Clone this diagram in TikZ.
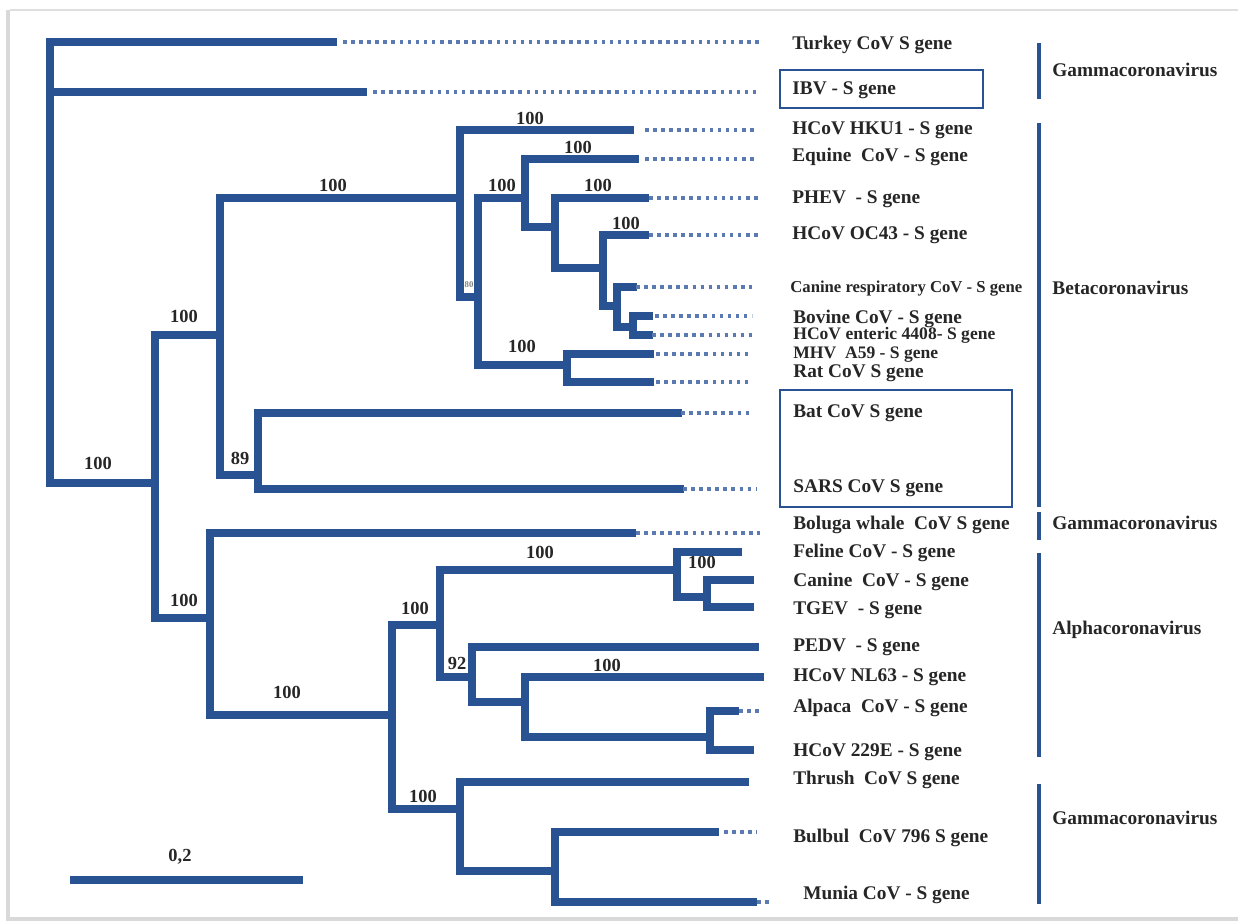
\documentclass[tikz,border=0pt]{standalone}
\usepackage{fontspec}
\setmainfont{Liberation Serif}
\usepackage{xcolor}
\usetikzlibrary{positioning,calc}
\definecolor{treeblue}{RGB}{40,82,145}
\definecolor{dotblue}{RGB}{92,122,178}

\begin{document}
\begin{tikzpicture}[
  x=0.02cm, y=-0.02cm,
  every node/.style={font=\fontsize{11}{13}\selectfont\bfseries},
  branch/.style={draw=treeblue, line width=4.2pt, line cap=rect},
  dotline/.style={draw=dotblue, line width=2pt, dash pattern=on 2pt off 2.6pt},
  leaf/.style={anchor=mid west, inner sep=0pt, text=black!85},
  boot/.style={inner sep=0pt, text=black!85, font=\fontsize{10.5}{12}\selectfont\bfseries},
  grpbar/.style={draw=treeblue, line width=2.4pt},
  grplbl/.style={anchor=mid west, inner sep=0pt, text=black!85, font=\fontsize{11}{13}\selectfont\bfseries},
  selbox/.style={draw=treeblue, line width=1.6pt}
]
\useasboundingbox (0,0) rectangle (1238,922);
% page with shadow
\fill[gray!30] (6,10) rectangle (1238,921);
\fill[white] (10,11) rectangle (1238,917);
\draw[gray!25, line width=0.6pt] (10,10) -- (1238,10);

% internal nodes
\coordinate (root) at (50,483);
\coordinate (nA) at (155,483);
\coordinate (nB) at (220,335);
\coordinate (nC) at (460,198);
\coordinate (nD) at (478,297);
\coordinate (nE) at (525,198);
\coordinate (nF) at (555,227);
\coordinate (nG) at (603,268);
\coordinate (nH) at (617,306);
\coordinate (nI) at (633,327);
\coordinate (nJ) at (567,365);
\coordinate (nK) at (258,475);
\coordinate (nL) at (210,618);
\coordinate (nM) at (392,715);
\coordinate (nN) at (440,625);
\coordinate (nO) at (677,570);
\coordinate (nP) at (707,597);
\coordinate (nQ) at (472,677);
\coordinate (nR) at (525,702);
\coordinate (nS) at (710,737);
\coordinate (nT) at (460,809);
\coordinate (nU) at (555,871);

% branch tips
\coordinate (tTurkey)  at (333,42);
\coordinate (tIBV)     at (363,92);
\coordinate (tHKU1)    at (630,130);
\coordinate (tEquine)  at (635,159);
\coordinate (tPHEV)    at (645,198);
\coordinate (tOC43)    at (645,235);
\coordinate (tCanResp) at (633,287);
\coordinate (tBovine)  at (649,316);
\coordinate (tEnteric) at (649,335);
\coordinate (tMHV)     at (650,354);
\coordinate (tRat)     at (650,382);
\coordinate (tBat)     at (678,413);
\coordinate (tSARS)    at (680,489);
\coordinate (tBoluga)  at (632,533);
\coordinate (tFeline)  at (738,552);
\coordinate (tCanine)  at (750,580);
\coordinate (tTGEV)    at (750,607);
\coordinate (tPEDV)    at (755,647);
\coordinate (tNL63)    at (760,677);
\coordinate (tAlpaca)  at (735,711);
\coordinate (t229E)    at (750,750);
\coordinate (tThrush)  at (745,782);
\coordinate (tBulbul)  at (715,832);
\coordinate (tMunia)   at (753,902);

% ends of the dotted leaders
\coordinate (dA) at (760,0);
\coordinate (dB) at (757,0);
\coordinate (dC) at (752,0);
\coordinate (dD) at (770,0);

% leaf labels
\node[leaf] (lTurkey)  at (792,45)  {Turkey CoV S gene};
\node[leaf] (lIBV)     at (792,90)  {IBV - S gene};
\node[leaf] (lHKU1)    at (792,130) {HCoV HKU1 - S gene};
\node[leaf] (lEquine)  at (792,157) {Equine\ \ CoV - S gene};
\node[leaf] (lPHEV)    at (792,199) {PHEV\ \ - S gene};
\node[leaf] (lOC43)    at (792,235) {HCoV OC43 - S gene};
\node[leaf, font=\fontsize{9.5}{11}\selectfont\bfseries] (lCanResp) at (790,288) {Canine respiratory CoV - S gene};
\node[leaf] (lBovine)  at (793,319) {Bovine CoV - S gene};
\node[leaf, font=\fontsize{10}{11}\selectfont\bfseries] (lEnteric) at (793,335) {HCoV enteric 4408- S gene};
\node[leaf, font=\fontsize{10}{11}\selectfont\bfseries] (lMHV) at (793,354) {MHV\ \ A59 - S gene};
\node[leaf] (lRat)     at (793,373) {Rat CoV S gene};
\node[leaf] (lBat)     at (793,413) {Bat CoV S gene};
\node[leaf] (lSARS)    at (793,488) {SARS CoV S gene};
\node[leaf] (lBoluga)  at (793,525) {Boluga whale\ \ CoV S gene};
\node[leaf] (lFeline)  at (793,553) {Feline CoV - S gene};
\node[leaf] (lCanine)  at (793,582) {Canine\ \ CoV - S gene};
\node[leaf] (lTGEV)    at (793,610) {TGEV\ \ - S gene};
\node[leaf] (lPEDV)    at (793,647) {PEDV\ \ - S gene};
\node[leaf] (lNL63)    at (793,677) {HCoV NL63 - S gene};
\node[leaf] (lAlpaca)  at (793,708) {Alpaca\ \ CoV - S gene};
\node[leaf] (l229E)    at (793,752) {HCoV 229E - S gene};
\node[leaf] (lThrush)  at (793,780) {Thrush\ \ CoV S gene};
\node[leaf] (lBulbul)  at (793,838) {Bulbul\ \ CoV 796 S gene};
\node[leaf] (lMunia)   at (803,895) {Munia CoV - S gene};

% bootstrap values
\node[boot] (b1)  at (98,463)  {100};
\node[boot] (b2)  at (184,316) {100};
\node[boot] (b3)  at (184,600) {100};
\node[boot] (b4)  at (333,185) {100};
\node[boot] (b5)  at (240,458) {89};
\node[boot] (b6)  at (530,118) {100};
\node[boot, font=\fontsize{5}{6}\selectfont\bfseries, text=gray] (b7) at (469,285) {80};
\node[boot] (b8)  at (502,185) {100};
\node[boot] (b9)  at (522,346) {100};
\node[boot] (b10) at (578,147) {100};
\node[boot] (b11) at (598,185) {100};
\node[boot] (b12) at (626,223) {100};
\node[boot] (b13) at (287,692) {100};
\node[boot] (b14) at (415,608) {100};
\node[boot] (b15) at (423,796) {100};
\node[boot] (b16) at (540,552) {100};
\node[boot] (b17) at (457,663) {92};
\node[boot] (b18) at (702,562) {100};
\node[boot] (b19) at (607,665) {100};

% groups
\node[grplbl] (gGamma1) at (1052,72)  {Gammacoronavirus};
\node[grplbl] (gBeta)   at (1052,290) {Betacoronavirus};
\node[grplbl] (gGamma2) at (1052,525) {Gammacoronavirus};
\node[grplbl] (gAlpha)  at (1052,630) {Alphacoronavirus};
\node[grplbl] (gGamma3) at (1052,820) {Gammacoronavirus};
\draw[grpbar] (1039,43)  -- (1039,99);
\draw[grpbar] (1039,123) -- (1039,507);
\draw[grpbar] (1039,512) -- (1039,540);
\draw[grpbar] (1039,553) -- (1039,757);
\draw[grpbar] (1039,784) -- (1039,904);

% boxed labels
\draw[selbox] (780,70)  rectangle (983,108);
\draw[selbox] (780,390) rectangle (1012,507);

% scale bar
\node[boot] (sLbl) at (180,857) {0,2};
\draw[branch, line cap=butt] (70,880) -- (303,880);

% tree
\draw[branch] (root) |- (tTurkey);
\draw[branch] (root) |- (tIBV);
\draw[branch] (root) -- (nA);
\draw[branch] (nA) |- (nB);
\draw[branch] (nA) |- (nL);
\draw[branch] (nB) |- (nC);
\draw[branch] (nB) |- (nK);
\draw[branch] (nC) |- (tHKU1);
\draw[branch] (nC) |- (nD);
\draw[branch] (nD) |- (nE);
\draw[branch] (nD) |- (nJ);
\draw[branch] (nE) |- (tEquine);
\draw[branch] (nE) |- (nF);
\draw[branch] (nF) |- (tPHEV);
\draw[branch] (nF) |- (nG);
\draw[branch] (nG) |- (tOC43);
\draw[branch] (nG) |- (nH);
\draw[branch] (nH) |- (tCanResp);
\draw[branch] (nH) |- (nI);
\draw[branch] (nI) |- (tBovine);
\draw[branch] (nI) |- (tEnteric);
\draw[branch] (nJ) |- (tMHV);
\draw[branch] (nJ) |- (tRat);
\draw[branch] (nK) |- (tBat);
\draw[branch] (nK) |- (tSARS);
\draw[branch] (nL) |- (tBoluga);
\draw[branch] (nL) |- (nM);
\draw[branch] (nM) |- (nN);
\draw[branch] (nM) |- (nT);
\draw[branch] (nN) |- (nO);
\draw[branch] (nN) |- (nQ);
\draw[branch] (nO) |- (tFeline);
\draw[branch] (nO) |- (nP);
\draw[branch] (nP) |- (tCanine);
\draw[branch] (nP) |- (tTGEV);
\draw[branch] (nQ) |- (tPEDV);
\draw[branch] (nQ) |- (nR);
\draw[branch] (nR) |- (tNL63);
\draw[branch] (nR) |- (nS);
\draw[branch] (nS) |- (tAlpaca);
\draw[branch] (nS) |- (t229E);
\draw[branch] (nT) |- (tThrush);
\draw[branch] (nT) |- (nU);
\draw[branch] (nU) |- (tBulbul);
\draw[branch] (nU) |- (tMunia);

% dotted leaders
\draw[dotline] (tTurkey)  ++(10,0) -- (tTurkey -| dA);
\draw[dotline] (tIBV)     ++(10,0) -- (tIBV -| dA);
\draw[dotline] (tHKU1)    ++(15,0) -- (tHKU1 -| dB);
\draw[dotline] (tEquine)  ++(10,0) -- (tEquine -| dB);
\draw[dotline] (tPHEV)    ++(4,0)  -- (tPHEV -| dA);
\draw[dotline] (tOC43)    ++(4,0)  -- (tOC43 -| dA);
\draw[dotline] (tCanResp) ++(3,0)  -- (tCanResp -| dC);
\draw[dotline] (tBovine)  ++(6,0)  -- (tBovine -| dC);
\draw[dotline] (tEnteric) ++(3,0)  -- (tEnteric -| dC);
\draw[dotline] (tMHV)     ++(6,0)  -- (tMHV -| dC);
\draw[dotline] (tRat)     ++(6,0)  -- (tRat -| dC);
\draw[dotline] (tBat)     ++(3,0)  -- (tBat -| dC);
\draw[dotline] (tSARS)    ++(3,0)  -- (tSARS -| dB);
\draw[dotline] (tBoluga)  ++(4,0)  -- (tBoluga -| dA);
\draw[dotline] (tAlpaca)  ++(4,0)  -- (tAlpaca -| dA);
\draw[dotline] (tBulbul)  ++(9,0)  -- (tBulbul -| dB);
\draw[dotline] (tMunia)   ++(4,0)  -- (tMunia -| dD);

\end{tikzpicture}
\end{document}
